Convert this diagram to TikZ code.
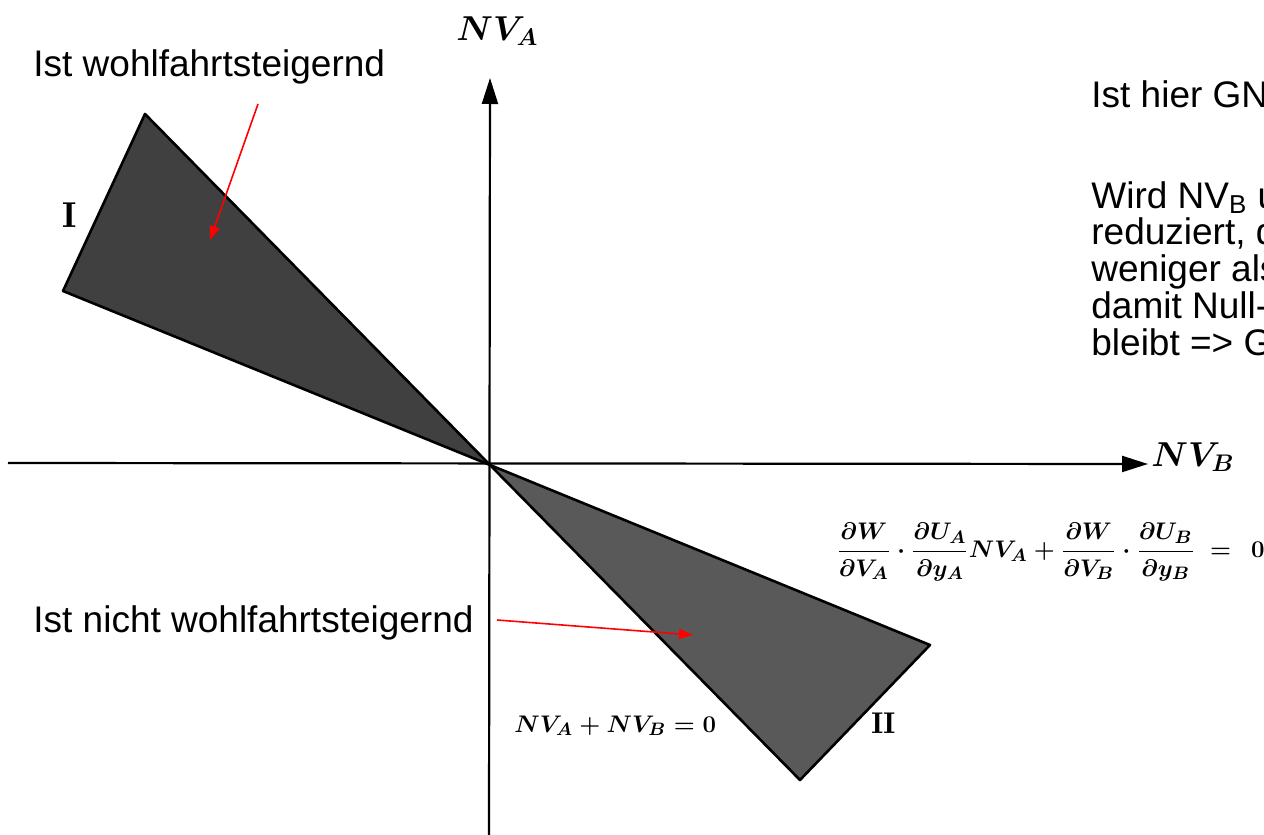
\documentclass[tikz,border=0pt]{standalone}
\usepackage{amsmath}
\usepackage{fontspec}
\newfontfamily\arialfont{Liberation Sans}
\usetikzlibrary{arrows.meta}
\newcommand{\myformula}{$\boldsymbol{\dfrac{\partial W}{\partial V_A}\cdot\dfrac{\partial U_A}{\partial y_A}NV_A+\dfrac{\partial W}{\partial V_B}\cdot\dfrac{\partial U_B}{\partial y_B}\;=\;\,0}$}
\begin{document}
\begin{tikzpicture}[x=0.5pt,y=-0.5pt,
  lab/.style={font=\arialfont\fontsize{18.5}{18.5}\selectfont, inner sep=0pt, anchor=base west},
  mlab/.style={inner sep=0pt, anchor=base west},
  axisline/.style={line width=1.1pt, -{Triangle[length=13pt,width=8pt]}},
  redarr/.style={red, line width=0.8pt, -{Triangle[length=7pt,width=5pt]}},
  wedgeI/.style={fill=black!75, draw=black, line width=1.3pt, line join=round},
  wedgeII/.style={fill=black!65, draw=black, line width=1.3pt, line join=round}]
\useasboundingbox (0,0) rectangle (1264,835);
\clip (0,0) rectangle (1264,835);
\coordinate (O) at (490,465);
\coordinate (I1) at (145,114);
\coordinate (I2) at (63,291);
\coordinate (II1) at (930,645);
\coordinate (II2) at (800,780);
\filldraw[wedgeI] (O) -- (I1) -- (I2) -- cycle;
\filldraw[wedgeII] (O) -- (II1) -- (II2) -- cycle;
\coordinate (xs) at (8,463);
\coordinate (xe) at (1148,464);
\coordinate (ys) at (489,835);
\coordinate (ye) at (490,78);
\draw[axisline] (xs) -- (xe);
\draw[axisline] (ys) -- (ye);
\node[mlab, font=\fontsize{17}{17}\selectfont] (nva) at (456,40) {$\boldsymbol{NV_A}$};
\node[mlab, font=\fontsize{17}{17}\selectfont] (nvb) at (1151,466) {$\boldsymbol{NV_B}$};
\node[mlab, font=\fontsize{18}{18}\selectfont] (rI) at (62,227) {$\mathbf{I}$};
\node[mlab, font=\fontsize{15}{15}\selectfont] (rII) at (871,733) {$\mathbf{II}$};
\node[mlab, font=\fontsize{12.2}{12.2}\selectfont] (f0) at (514,732) {$\boldsymbol{NV_A + NV_B = 0}$};
\node[inner sep=0pt, anchor=west, font=\fontsize{12.4}{14}\selectfont] (f1) at (836,552) {\myformula};
\node[lab] (t1) at (33,76) {Ist wohlfahrtsteigernd};
\node[lab] (t2) at (33,632) {Ist nicht wohlfahrtsteigernd};
\coordinate (a1s) at (258,104);
\coordinate (a1e) at (210,240);
\coordinate (a2s) at (497,620);
\coordinate (a2e) at (693,635);
\draw[redarr] (a1s) -- (a1e);
\draw[redarr] (a2s) -- (a2e);
\node[lab] (r0) at (1091,107) {Ist hier GN};
\node[lab] (r1) at (1091,208) {Wird NV\textsubscript{B} u};
\node[lab] (r2) at (1091,244) {reduziert, d};
\node[lab] (r3) at (1091,281) {weniger als};
\node[lab] (r4) at (1091,318) {damit Null-};
\node[lab] (r5) at (1091,355) {bleibt => G};
\end{tikzpicture}
\end{document}
